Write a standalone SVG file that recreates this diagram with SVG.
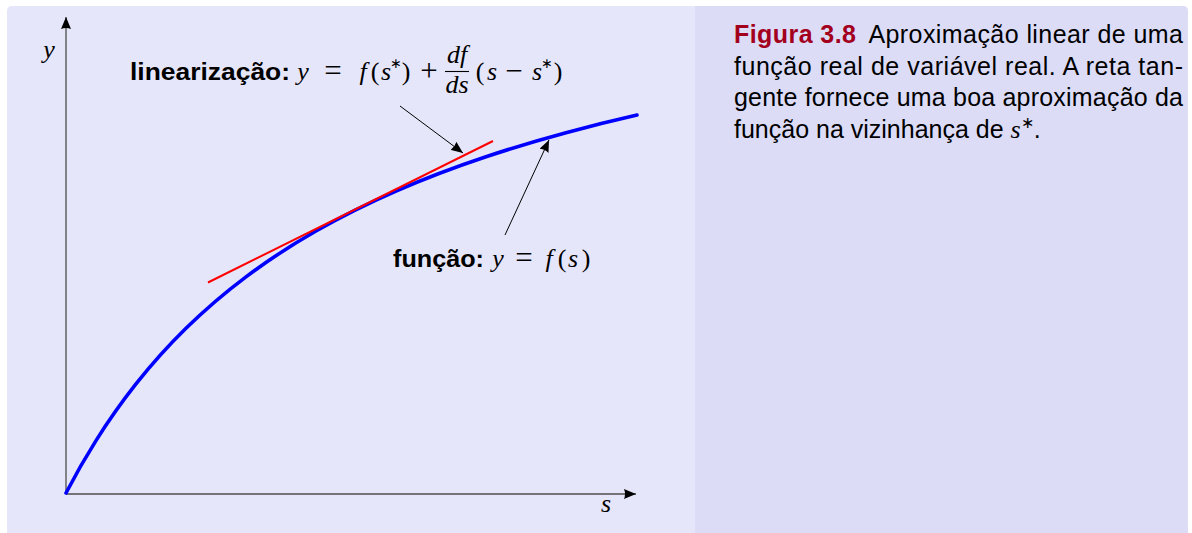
<svg xmlns="http://www.w3.org/2000/svg" width="1192" height="533" viewBox="0 0 1192 533">
<defs>
<style>
.cap{font-family:"Liberation Sans",Arial,sans-serif;font-size:25px;fill:#000}
.lbl{font-family:"Liberation Sans",Arial,sans-serif;font-weight:bold;font-size:23px;fill:#000}
.m{font-family:"Liberation Serif","Times New Roman",serif;font-size:26px;fill:#000;text-anchor:middle}
.op{font-size:31px}
.i{font-style:italic}
.sup{font-size:14px}
.axis{stroke:#4d4d4d;stroke-width:1.3;fill:none}
.ptr{stroke:#000;stroke-width:1;fill:none}
</style>
<marker id="ah" viewBox="0 0 12 10" refX="12" refY="5" markerWidth="12" markerHeight="10" markerUnits="userSpaceOnUse" orient="auto">
<path d="M0,0 L12,5 L0,10 Q2,5 0,0 Z" fill="#000"/>
</marker>
</defs>
<rect width="1192" height="533" fill="#fff"/>
<path d="M7,533 V11 Q7,6 12,6 H695 V533 Z" fill="#e6e6fa"/>
<path d="M695,6 H1183 Q1188,6 1188,11 V533 H695 Z" fill="#dcdcf7"/>

<g id="axes">
<line class="axis" x1="66" y1="494" x2="66" y2="17" marker-end="url(#ah)"/>
<line class="axis" x1="66" y1="494" x2="636" y2="494" marker-end="url(#ah)"/>
<text class="m i" x="49" y="58" font-size="24">y</text>
<text class="m i" x="606" y="512" font-size="24">s</text>
</g>

<g id="curve">
<path fill="none" stroke="#0000ff" stroke-width="3.6" stroke-linecap="round" d="M66,493 C76,473.79 86,456.49 96,440.61 C109.33,419.44 122.67,400.8 136,383.96 C152.67,362.91 169.33,344.66 186,328.32 C206,308.71 226,291.86 246,276.85 C269.33,259.34 292.67,244.34 316,231 C342.67,215.75 369.33,202.68 396,191.06 C426,177.99 456,166.75 486,156.74 C512.67,147.84 539.33,139.93 566,132.72 C589.67,126.32 613.33,120.49 637,115.09"/>
</g>
<g id="tangent">
<line x1="208" y1="282.5" x2="493" y2="141" stroke="#ff0000" stroke-width="2"/>
</g>

<g id="connectors">
<line class="ptr" x1="400" y1="106" x2="463" y2="153" marker-end="url(#ah)"/>
<line class="ptr" x1="505" y1="235" x2="549" y2="140" marker-end="url(#ah)"/>
</g>

<g id="label-linearizacao">
<text class="lbl" x="130" y="80" textLength="160" lengthAdjust="spacingAndGlyphs">linearização:</text>
<text class="m i" x="303" y="80">y</text>
<text class="m op" x="333" y="81">=</text>
<text class="m i" x="363" y="80">f</text>
<text class="m" x="375" y="80">(</text>
<text class="m i" x="386" y="80">s</text>
<text class="m sup" x="396" y="68">∗</text>
<text class="m" x="406" y="80">)</text>
<text class="m op" x="429" y="81">+</text>
<text class="m i" x="457" y="63" font-size="24">df</text>
<line x1="445" y1="71.5" x2="469" y2="71.5" stroke="#000" stroke-width="1.1"/>
<text class="m i" x="457" y="93" font-size="24">ds</text>
<text class="m" x="480" y="80">(</text>
<text class="m i" x="492" y="80">s</text>
<text class="m op" x="514" y="81">−</text>
<text class="m i" x="537" y="80">s</text>
<text class="m sup" x="547" y="68">∗</text>
<text class="m" x="558" y="80">)</text>
</g>

<g id="label-funcao">
<text class="lbl" x="393" y="267" textLength="91" lengthAdjust="spacingAndGlyphs">função:</text>
<text class="m i" x="498" y="267">y</text>
<text class="m op" x="524" y="268">=</text>
<text class="m i" x="549" y="267">f</text>
<text class="m" x="562" y="267">(</text>
<text class="m i" x="573" y="267">s</text>
<text class="m" x="586" y="267">)</text>
</g>

<g id="caption">
<text class="cap" x="734" y="43" textLength="449" lengthAdjust="spacing"><tspan font-weight="bold" fill="#a3001e">Figura 3.8</tspan><tspan dx="6"> Aproximação linear de uma</tspan></text>
<text class="cap" x="734" y="74.5" textLength="449" lengthAdjust="spacing">função real de variável real. A reta tan-</text>
<text class="cap" x="734" y="106" textLength="449" lengthAdjust="spacing">gente fornece uma boa aproximação da</text>
<text class="cap" x="734" y="137.5">função na vizinhança de <tspan font-family="Liberation Serif, serif" font-style="italic" font-size="26">s</tspan><tspan font-size="16" dy="-10">∗</tspan><tspan dy="10">.</tspan></text>
</g>
</svg>
